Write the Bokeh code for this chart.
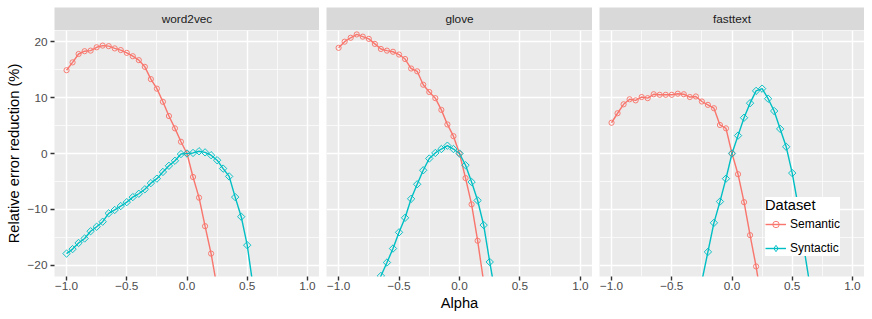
import numpy as np
from bokeh.plotting import figure
from bokeh.layouts import column, row
from bokeh.models import (FixedTicker, Range1d, Legend, LegendItem, Label,
                          ColumnDataSource)
from bokeh.embed import file_html
from bokeh.resources import INLINE

# ---------------- data ----------------
alpha = [-1.0, -0.95, -0.9, -0.85, -0.8, -0.75, -0.7, -0.65, -0.6, -0.55,
         -0.5, -0.45, -0.4, -0.35, -0.3, -0.25, -0.2, -0.15, -0.1, -0.05,
         0.0, 0.05, 0.1, 0.15, 0.2, 0.25, 0.3, 0.35, 0.4, 0.45,
         0.5, 0.55, 0.6, 0.65, 0.7, 0.75, 0.8, 0.85, 0.9, 0.95, 1.0]

models = ["word2vec", "glove", "fasttext"]
datasets = ["Semantic", "Syntactic"]

w2v_semantic = [14.9, 16.3, 17.8, 18.3, 18.4, 19.0, 19.3, 19.2, 18.8, 18.5,
                18.0, 17.4, 16.7, 15.5, 13.3, 11.6, 9.25, 6.7, 4.5, 2.1,
                0.0, -4.2, -7.9, -13.0, -17.9, -24.0] + [None] * 15
w2v_syntactic = [-17.9, -17.1, -16.0, -15.2, -13.9, -13.1, -12.2, -10.7, -10.1, -9.4,
                 -8.7, -7.8, -7.2, -6.4, -5.3, -4.5, -3.3, -2.2, -1.3, -0.1,
                 0.0, 0.1, 0.4, 0.2, -0.3, -1.2, -2.7, -4.1, -7.8, -11.3,
                 -16.4, -24.0] + [None] * 9
glove_semantic = [18.9, 20.0, 20.7, 21.3, 20.9, 20.5, 19.6, 18.7, 18.4, 18.2,
                  17.7, 16.9, 15.2, 14.7, 12.3, 11.0, 9.9, 7.8, 5.2, 3.1,
                  0.0, -4.4, -9.1, -15.6, -23.0] + [None] * 16
glove_syntactic = [None] * 6 + [-25.0, -21.9, -19.5, -17.0,
                   -14.1, -11.5, -8.1, -5.5, -3.0, -0.9, 0.1, 0.8, 1.4, 0.8,
                   0.0, -2.1, -5.1, -8.4, -12.8, -19.4, -25.6] + [None] * 14
fasttext_semantic = [5.5, 7.2, 8.8, 9.7, 9.5, 10.1, 9.9, 10.6, 10.5, 10.5,
                     10.5, 10.7, 10.6, 10.1, 10.2, 9.3, 8.7, 8.1, 5.1, 4.5,
                     0.0, -3.7, -8.7, -14.6, -20.2, -27.0] + [None] * 15
fasttext_syntactic = [None] * 15 + [-22.8, -17.6, -12.4, -8.6, -4.5,
                      0.0, 3.2, 6.4, 9.0, 11.2, 11.6, 9.8, 7.6, 4.4, 1.2,
                      -3.5, -9.5, -17.3, -24.0] + [None] * 7

x_ticks = [-1.0, -0.5, 0.0, 0.5, 1.0]
x_minor = [-0.75, -0.25, 0.25, 0.75]
x_tick_labels = ["\u22121.0", "\u22120.5", "0.0", "0.5", "1.0"]
y_ticks = [-20, -10, 0, 10, 20]
y_minor = [-15, -5, 5, 15]
y_tick_labels = ["\u221220", "\u221210", "0", "10", "20"]

series = {
    "word2vec": (w2v_semantic, w2v_syntactic),
    "glove": (glove_semantic, glove_syntactic),
    "fasttext": (fasttext_semantic, fasttext_syntactic),
}

# ---------------- style ----------------
FONT = "Liberation Sans"
SEM_COLOR = "#F8766D"
SYN_COLOR = "#00BFC4"
PANEL_BG = "#EBEBEB"
STRIP_BG = "#D9D9D9"

frame_widths = [265, 266, 265]
left_borders = [54, 7, 7]
FRAME_H = 246
STRIP_H = 23
STRIP_TOP = 7
BOTTOM = 43


def style_axis(ax):
    ax.axis_line_color = None
    ax.major_tick_line_color = "#333333"
    ax.major_tick_line_width = 1.42
    ax.major_tick_out = 4
    ax.major_tick_in = 0
    ax.minor_tick_line_color = None
    ax.major_label_text_font = FONT
    ax.major_label_text_font_size = "11.8px"
    ax.major_label_text_color = "#4D4D4D"
    ax.axis_label_text_font = FONT
    ax.axis_label_text_font_size = "14.7px"
    ax.axis_label_text_font_style = "normal"
    ax.axis_label_text_color = "#000000"
    ax.axis_label_standoff = 2


strips = []
panels = []
for i, name in enumerate(models):
    sem, syn = series[name]
    # facet strip
    s = figure(frame_width=frame_widths[i], frame_height=STRIP_H,
               x_range=Range1d(0, 1), y_range=Range1d(0, 1),
               x_axis_location=None, y_axis_location=None,
               min_border_left=left_borders[i], min_border_right=0,
               min_border_top=STRIP_TOP, min_border_bottom=0,
               background_fill_color=STRIP_BG, border_fill_color="white",
               outline_line_color=None, toolbar_location=None,
               output_backend="svg", title=None)
    s.grid.visible = False
    s.add_layout(Label(x=0.5, y=0.5, text=name, text_align="center",
                       text_baseline="middle", text_font=FONT,
                       text_font_size="11.8px", text_color="#1A1A1A"))
    strips.append(s)

    # panel
    p = figure(frame_width=frame_widths[i], frame_height=FRAME_H,
               x_range=Range1d(-1.1, 1.1), y_range=Range1d(-22, 22),
               y_axis_location="left" if i == 0 else None,
               min_border_left=left_borders[i], min_border_right=0,
               min_border_top=0, min_border_bottom=BOTTOM,
               background_fill_color=PANEL_BG, border_fill_color="white",
               outline_line_color=None, toolbar_location=None,
               output_backend="svg", title=None)
    p.xgrid.ticker = FixedTicker(ticks=x_ticks, minor_ticks=x_minor)
    p.ygrid.ticker = FixedTicker(ticks=y_ticks, minor_ticks=y_minor)
    for g in (p.xgrid, p.ygrid):
        g.grid_line_color = "white"
        g.grid_line_width = 1.42
        g.minor_grid_line_color = "white"
        g.minor_grid_line_width = 0.71

    ax = p.xaxis[0]
    ax.ticker = FixedTicker(ticks=x_ticks, minor_ticks=x_minor)
    ax.major_label_overrides = dict(zip(x_ticks, x_tick_labels))
    style_axis(ax)
    ax.major_label_standoff = 1
    if i == 1:
        ax.axis_label = "Alpha"
    if i == 0:
        ay = p.yaxis[0]
        ay.ticker = FixedTicker(ticks=y_ticks, minor_ticks=y_minor)
        ay.major_label_overrides = dict(zip(y_ticks, y_tick_labels))
        style_axis(ay)
        ay.major_label_standoff = 3
        ay.axis_label = "Relative error reduction (%)"

    src = ColumnDataSource(dict(alpha=alpha,
                                sem=np.array(sem, dtype=float),
                                syn=np.array(syn, dtype=float)))
    l_sem = p.line("alpha", "sem", source=src, line_color=SEM_COLOR, line_width=1.42)
    l_syn = p.line("alpha", "syn", source=src, line_color=SYN_COLOR, line_width=1.42)
    m_sem = p.scatter("alpha", "sem", source=src, marker="circle", size=5.2,
                      fill_color=None, line_color=SEM_COLOR, line_width=0.95)
    p.scatter("alpha", "syn", source=src, marker="square", angle=np.pi / 4,
              size=5.2, fill_color=None, line_color=SYN_COLOR, line_width=0.95)

    if i == 2:
        # legend-only key for the diamond (NaN position: never drawn in the panel)
        k_syn = p.scatter(x=[float("nan")], y=[float("nan")], marker="diamond",
                          fill_color=None, line_color=SYN_COLOR, line_width=0.95)
        legend = Legend(
            items=[LegendItem(label=datasets[0], renderers=[l_sem, m_sem]),
                   LegendItem(label=datasets[1], renderers=[l_syn, k_syn])],
            location=(166, 20), title="Dataset",
            title_text_font=FONT, title_text_font_size="14.7px",
            title_text_font_style="normal", title_text_color="#000000",
            title_standoff=3,
            label_text_font=FONT, label_text_font_size="12px",
            label_text_color="#000000", label_standoff=4,
            glyph_width=21, glyph_height=16, label_height=16, spacing=8,
            padding=7, margin=0,
            border_line_color=None, background_fill_color="white",
            background_fill_alpha=1.0)
        p.add_layout(legend)
    panels.append(p)

layout = column(row(*strips), row(*panels))

with open("out.html", "w") as f:
    f.write(file_html(layout, INLINE))
